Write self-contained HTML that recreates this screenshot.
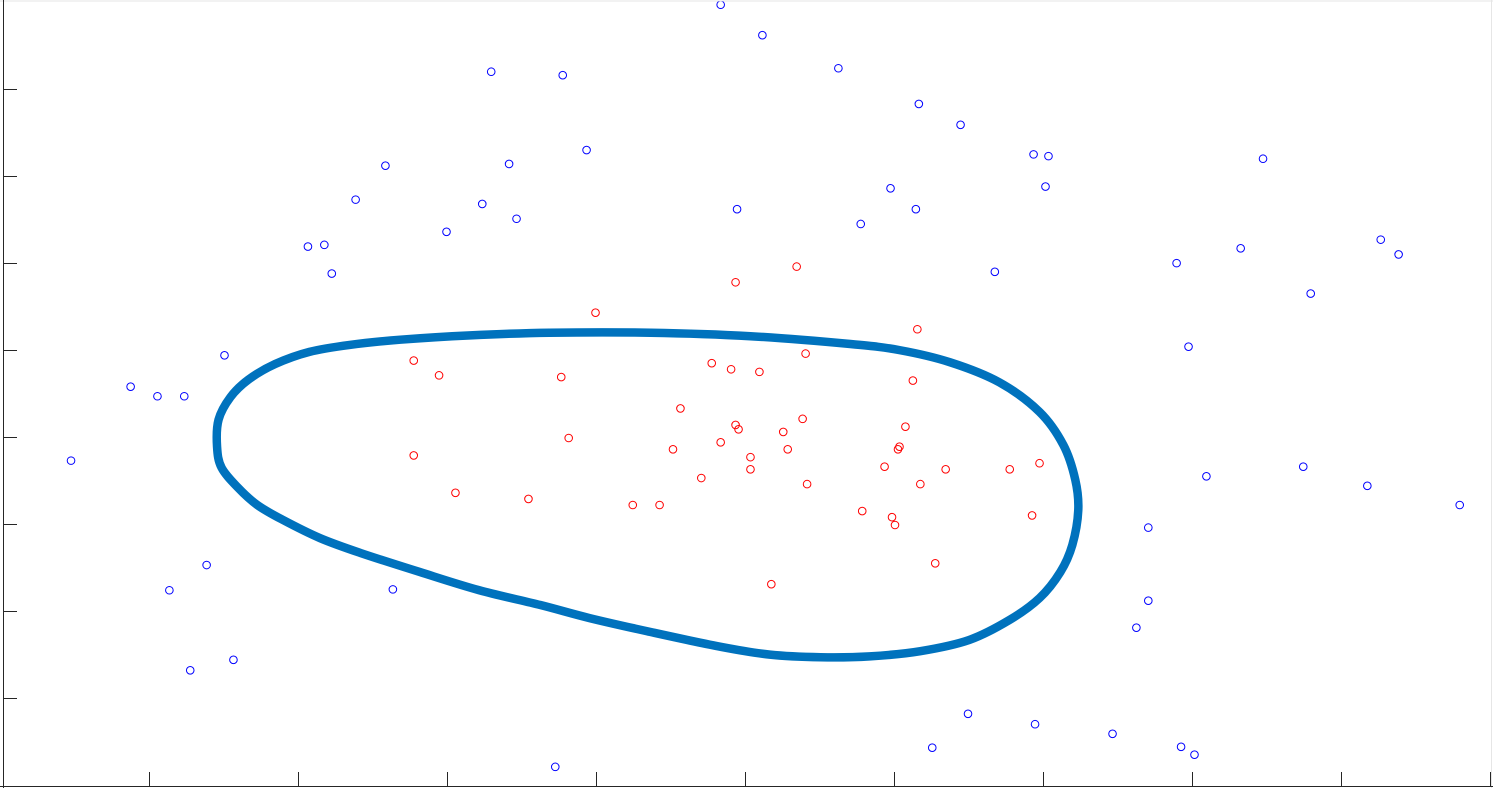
<!DOCTYPE html>
<html><head><meta charset="utf-8"><style>
html,body{margin:0;padding:0;background:#fff;}
svg{display:block;font-family:"Liberation Sans",sans-serif;}
</style></head><body>
<svg id="chart" width="1493" height="788" viewBox="0 0 1493 788" xmlns="http://www.w3.org/2000/svg">
<rect x="0" y="0" width="1493" height="788" fill="#fff"/>
<g id="marks"></g>
<g id="axes"></g>
</svg>
<script>
const xTicks=[1,2,3,4,5,6,7,8,9,10];
const yTicks=[1,2,3,4,5,6,7,8];
const blueX=[4.83,5.11,5.62,3.29,3.77,6.16,6.44,3.93,6.93,7.03,8.47,3.41,2.58,7.01,5.97,2.38,3.23,4.94,6.14,3.46,5.77,2.99,9.26,2.17,2.06,8.32,9.38,7.89,6.67,2.22,8.79,7.97,1.50,0.87,1.05,1.23,0.47,8.09,8.74,9.17,9.79,7.70,1.38,1.13,2.63,7.70,7.62,1.56,1.27,6.49,6.94,7.46,6.25,7.92,8.01,3.72];
const blueY=[8.98,8.63,8.25,8.21,8.17,7.84,7.60,7.31,7.26,7.24,7.21,7.15,7.13,6.89,6.87,6.74,6.69,6.63,6.63,6.52,6.46,6.37,6.28,6.22,6.20,6.18,6.11,6.01,5.91,5.89,5.66,5.05,4.95,4.59,4.48,4.48,3.74,3.56,3.67,3.45,3.23,2.97,2.54,2.25,2.26,2.13,1.82,1.45,1.33,0.83,0.71,0.60,0.44,0.45,0.36,0.22];
const redX=[5.34,4.93,3.99,6.15,5.40,2.77,4.77,4.90,5.09,2.94,3.76,6.12,4.56,5.38,4.93,4.95,6.07,5.25,3.81,4.83,6.03,6.02,4.51,5.28,2.77,5.03,6.97,5.93,5.03,6.34,6.77,4.70,6.17,5.41,3.05,3.54,4.24,4.42,5.78,6.92,5.98,6.00,6.27,5.17];
const redY=[5.97,5.79,5.44,5.25,4.97,4.89,4.86,4.79,4.76,4.72,4.70,4.66,4.34,4.22,4.15,4.10,4.13,4.07,4.00,3.95,3.90,3.87,3.87,3.87,3.80,3.78,3.71,3.67,3.64,3.64,3.64,3.54,3.47,3.47,3.37,3.30,3.23,3.23,3.16,3.11,3.09,3.00,2.56,2.32];
const boundX=[1.45,1.46,1.54,1.66,1.84,2.07,2.34,2.68,3.15,3.68,4.36,5.03,5.70,6.03,6.37,6.70,6.97,7.13,7.21,7.23,7.19,7.11,6.97,6.77,6.50,6.17,5.83,5.50,5.16,4.83,4.36,3.95,3.62,3.21,2.81,2.41,2.14,1.89,1.72,1.59,1.48];
const boundY=[3.90,4.21,4.47,4.67,4.85,4.99,5.07,5.13,5.18,5.21,5.21,5.17,5.08,5.01,4.87,4.64,4.30,3.92,3.52,3.17,2.77,2.46,2.16,1.91,1.68,1.55,1.49,1.48,1.51,1.60,1.77,1.93,2.08,2.25,2.46,2.68,2.85,3.06,3.23,3.43,3.66];

const NS="http://www.w3.org/2000/svg";
function sx(v){return 1+149*v;}
function sy(v){return 786-87*v;}
const marks=document.getElementById('marks');
const axes=document.getElementById('axes');

let n=boundX.length, d='';
const P=[];for(let i=0;i<n;i++)P.push([sx(boundX[i]),sy(boundY[i])]);
d='M'+P[0][0]+','+P[0][1];
for(let i=0;i<n;i++){
  const p0=P[(i-1+n)%n],p1=P[i],p2=P[(i+1)%n],p3=P[(i+2)%n];
  const c1=[p1[0]+(p2[0]-p0[0])/6,p1[1]+(p2[1]-p0[1])/6];
  const c2=[p2[0]-(p3[0]-p1[0])/6,p2[1]-(p3[1]-p1[1])/6];
  d+=' C'+c1[0]+','+c1[1]+' '+c2[0]+','+c2[1]+' '+p2[0]+','+p2[1];
}
const bp=document.createElementNS(NS,'path');
bp.setAttribute('d',d+'Z');bp.setAttribute('fill','none');bp.setAttribute('stroke','#0072BD');bp.setAttribute('stroke-width','8.5');


marks.appendChild(bp);

for(let i=0;i<blueX.length;i++){
  const c=document.createElementNS(NS,'circle');
  c.setAttribute('cx',sx(blueX[i]));c.setAttribute('cy',sy(blueY[i]));c.setAttribute('r',3.8);
  c.setAttribute('fill','none');c.setAttribute('stroke','#0000ff');c.setAttribute('stroke-width','1');
  
  
  marks.appendChild(c);
}
for(let i=0;i<redX.length;i++){
  const c=document.createElementNS(NS,'circle');
  c.setAttribute('cx',sx(redX[i]));c.setAttribute('cy',sy(redY[i]));c.setAttribute('r',3.8);
  c.setAttribute('fill','none');c.setAttribute('stroke','#ff0000');c.setAttribute('stroke-width','1');
  
  
  marks.appendChild(c);
}

function line(x1,y1,x2,y2,col,w,name){
  const l=document.createElementNS(NS,'line');
  l.setAttribute('x1',x1);l.setAttribute('y1',y1);l.setAttribute('x2',x2);l.setAttribute('y2',y2);
  l.setAttribute('stroke',col);l.setAttribute('stroke-width',w);
  
  
  axes.appendChild(l);
}
line(0,1,1493,1,'#e6e6e6',1,'top-border');
line(1491.5,0,1491.5,788,'#e6e6e6',1,'right-border');
line(3.5,0,3.5,788,'#262626',1,'y-axis-line');
line(0,786.5,1493,786.5,'#262626',1,'x-axis-line');
xTicks.forEach(t=>{line(sx(t)-0.5,786,sx(t)-0.5,772,'#262626',1,'x-tick');});
yTicks.forEach(t=>{line(3,sy(t)-0.5,17,sy(t)-0.5,'#262626',1,'y-tick');});
</script>
</body></html>
